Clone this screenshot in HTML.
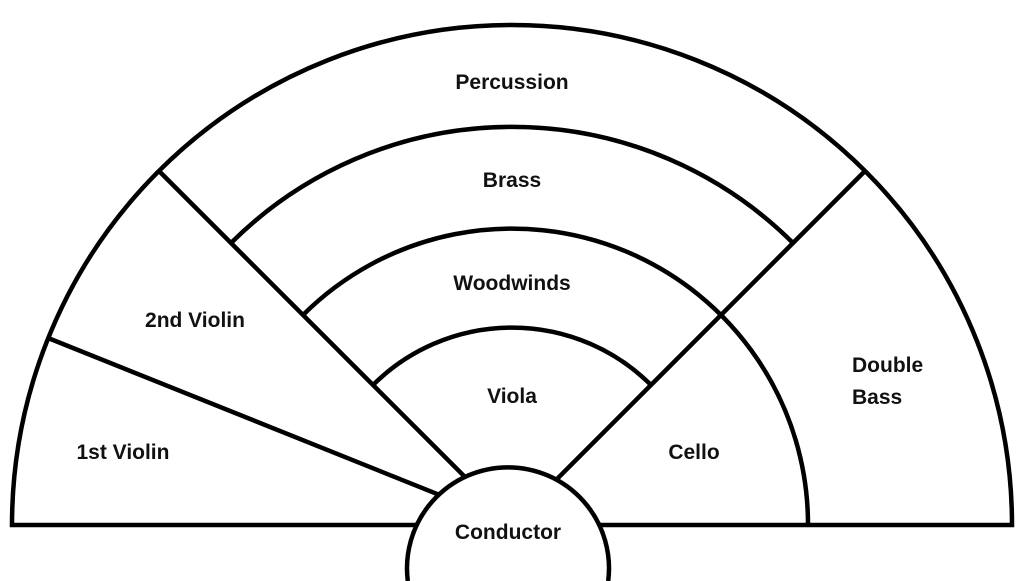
<!DOCTYPE html>
<html><head><meta charset="utf-8"><style>
html,body{margin:0;padding:0;background:#fff;width:1029px;height:581px;overflow:hidden;}
svg{display:block;}
text{font-family:"Liberation Sans",sans-serif;font-size:21px;font-weight:bold;fill:#111;}
</style></head><body>
<svg width="1029" height="581" viewBox="0 0 1029 581" xmlns="http://www.w3.org/2000/svg">
<g fill="none" stroke="#000" stroke-width="4.5">
<path d="M12 525 A500 500 0 0 1 1012 525 Z"/>
<line x1="159" y1="171" x2="512" y2="524"/>
<line x1="865" y1="171" x2="512" y2="524"/>
<line x1="48" y1="338" x2="512" y2="524"/>
<path d="M231 243 A398 398 0 0 1 793 243"/>
<path d="M303 315 A296 296 0 0 1 808 524"/>
<path d="M373 385 A197 197 0 0 1 651 385"/>
</g>
<path d="M407.8 581 A101 101 0 1 1 608.2 581 Z" fill="#fff" stroke="none"/>
<path d="M407.8 581 A101 101 0 1 1 608.2 581" fill="none" stroke="#000" stroke-width="4.5"/>
<g text-anchor="middle">
<text x="512" y="89">Percussion</text>
<text x="512" y="187">Brass</text>
<text x="512" y="290">Woodwinds</text>
<text x="512" y="403">Viola</text>
<text x="508" y="539">Conductor</text>
<text x="694" y="459">Cello</text>
<text x="123" y="459">1st Violin</text>
<text x="195" y="327">2nd Violin</text>
</g>
<text x="852" y="372">Double</text>
<text x="852" y="404">Bass</text>
</svg>
</body></html>
